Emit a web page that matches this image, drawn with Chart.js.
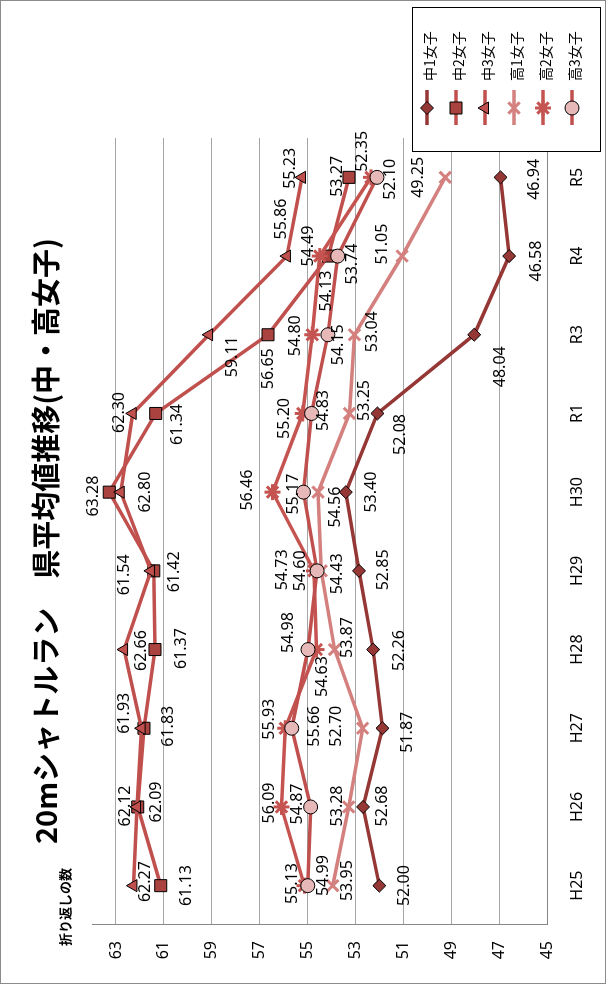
<!DOCTYPE html>
<html>
<head>
<meta charset="utf-8">
<script src="https://cdn.jsdelivr.net/npm/chart.js@4.4.1/dist/chart.umd.min.js"></script>
<style>
  html, body { margin: 0; padding: 0; background: #fff; overflow: hidden; }
  /* chart is drawn upright (984x606) and turned a quarter turn to fit the page */
  #frame { position: absolute; left: 0; top: 0; width: 984px; height: 606px;
           transform-origin: 0 0; transform: translateY(984px) rotate(-90deg); }
</style>
</head>
<body>
<div id="frame"><canvas id="chart" width="984" height="606"></canvas></div>
<script>
var categories = ['H25', 'H26', 'H27', 'H28', 'H29', 'H30', 'R1', 'R3', 'R4', 'R5'];
var seriesNames = ['中1女子', '中2女子', '中3女子', '高1女子', '高2女子', '高3女子'];

var chu1 = [52.00, 52.68, 51.87, 52.26, 52.85, 53.40, 52.08, 48.04, 46.58, 46.94];
var chu2 = [61.13, 62.09, 61.83, 61.37, 61.42, 63.28, 61.34, 56.65, 54.13, 53.27];
var chu3 = [62.27, 62.12, 61.93, 62.66, 61.54, 62.80, 62.30, 59.11, 55.86, 55.23];
var kou1 = [53.95, 53.28, 52.70, 53.87, 54.43, 54.56, 53.25, 53.04, 51.05, 49.25];
var kou2 = [55.13, 56.09, 55.93, 54.63, 54.73, 56.46, 55.20, 54.80, 54.49, 52.35];
var kou3 = [54.99, 54.87, 55.66, 54.98, 54.60, 55.17, 54.83, 54.15, 53.74, 52.10];

var valueTicks = [45, 47, 49, 51, 53, 55, 57, 59, 61, 63];

var titleText = '20mシャトルラン　県平均値推移(中・高女子)';
var axisTitle = '折り返しの数';

// where each value label sits relative to its point [dx, dy]
var labelShift = [
  [[0, 25], [1, 19], [-4, 25], [-1, 26], [1, 24], [0, 26], [-21, 23], [-32, 26], [-5, 27], [-2, 34]],
  [[0, 26], [5, 19], [2, 24], [1, 26], [-1, 21], [-4, -16], [-11, 22], [-34, 0], [-35, -2], [1, -12]],
  [[4, 12], [1, -12], [15, -17], [-1, 17], [-4, -26], [0, 25], [1, -13], [-22, 23], [37, -5], [9, -12]],
  [[5, 15], [1, -11], [2, -26], [12, 13], [-3, 16], [-15, 17], [13, 15], [3, 18], [12, -20], [0, -27]],
  [[2, -12], [4, -12], [9, -16], [-27, 6], [1, -32], [2, -25], [-5, -18], [-1, -17], [10, -11], [26, -9]],
  [[10, 16], [3, -13], [2, 23], [17, -20], [0, -17], [-2, -10], [3, 12], [-10, 11], [-8, 15], [-2, 13]]
];

function series(index, data, line, style, fill, edge, radius, edgeWidth) {
  return {
    label: seriesNames[index],
    data: data,
    borderColor: line,
    borderWidth: 3.5,
    tension: 0,
    pointStyle: style,
    pointRadius: radius,
    pointBackgroundColor: fill,
    pointBorderColor: edge,
    pointBorderWidth: edgeWidth,
    order: 6 - index,
    clip: false
  };
}

var datasets = [
  series(0, chu1, '#953735', 'rectRot', '#953735', '#000000', 6.5, 1),
  series(1, chu2, '#C0504D', 'rect', '#AA423F', '#000000', 8.5, 1),
  series(2, chu3, '#C0504D', 'triangle', '#C0504D', '#000000', 7, 1),
  series(3, kou1, '#D3807E', 'crossRot', '#D3807E', '#D3807E', 8, 3),
  series(4, kou2, '#C55451', 'star', '#C55451', '#C55451', 8, 3),
  series(5, kou3, '#C0504D', 'circle', '#E6B9B8', '#000000', 7, 1)
];

var decor = {
  id: 'decor',
  beforeDraw: function (chart) {
    var ctx = chart.ctx;
    ctx.save();
    ctx.fillStyle = '#ffffff';
    ctx.fillRect(0, 0, chart.width, chart.height);
    ctx.restore();
  },
  afterDatasetsDraw: function (chart) {
    var ctx = chart.ctx;
    ctx.save();
    ctx.font = '16px "Noto Sans"';
    ctx.fillStyle = '#000000';
    ctx.textAlign = 'center';
    ctx.textBaseline = 'middle';
    chart.data.datasets.forEach(function (ds, i) {
      var meta = chart.getDatasetMeta(i);
      meta.data.forEach(function (pt, j) {
        var s = labelShift[i][j];
        ctx.fillText(ds.data[j].toFixed(2), pt.x + s[0], pt.y + s[1]);
      });
    });
    ctx.restore();
  },
  afterDraw: function (chart) {
    var ctx = chart.ctx;
    ctx.save();

    ctx.strokeStyle = '#8c8c8c';
    ctx.lineWidth = 1;
    ctx.strokeRect(0.5, 0.5, chart.width - 1, chart.height - 1);

    ctx.fillStyle = '#000000';
    ctx.textAlign = 'center';
    ctx.textBaseline = 'middle';
    ctx.font = 'bold 29px "Noto Sans CJK JP"';
    ctx.fillText(titleText, 443, 46);

    ctx.font = 'bold 13px "Noto Sans CJK JP"';
    ctx.fillText(axisTitle, 77, 65);

    // legend box
    ctx.fillStyle = '#ffffff';
    ctx.fillRect(832, 412, 144, 188);
    ctx.strokeStyle = '#000000';
    ctx.strokeRect(832.5, 412.5, 144, 188);

    chart.data.datasets.forEach(function (ds, i) {
      var y = 427 + i * 29;
      ctx.strokeStyle = ds.borderColor;
      ctx.lineWidth = 3.5;
      ctx.beginPath();
      ctx.moveTo(859, y);
      ctx.lineTo(894, y);
      ctx.stroke();

      ctx.fillStyle = ds.pointBackgroundColor;
      ctx.strokeStyle = ds.pointBorderColor;
      ctx.lineWidth = ds.pointBorderWidth;
      Chart.helpers.drawPoint(ctx, {
        pointStyle: ds.pointStyle,
        radius: ds.pointRadius,
        rotation: 0,
        borderWidth: ds.pointBorderWidth
      }, 876, y);

      ctx.fillStyle = '#000000';
      ctx.textAlign = 'left';
      ctx.font = '14px "Noto Sans CJK JP"';
      ctx.fillText(ds.label, 903, y + 3);
    });

    ctx.restore();
  }
};

new Chart(document.getElementById('chart'), {
  type: 'line',
  data: { labels: categories, datasets: datasets },
  plugins: [decor],
  options: {
    responsive: false,
    animation: false,
    devicePixelRatio: 1,
    layout: { padding: { top: 92, right: 138, left: 0, bottom: 0 } },
    plugins: {
      legend: { display: false },
      title: { display: false },
      tooltip: { enabled: false }
    },
    scales: {
      x: {
        type: 'category',
        offset: true,
        grid: { display: false, offset: true },
        border: { display: true, color: '#868686' },
        ticks: {
          autoSkip: false,
          maxRotation: 0,
          padding: 13,
          color: '#000000',
          font: { family: 'Noto Sans', size: 16 }
        },
        afterFit: function (scale) { scale.height = 59; }
      },
      y: {
        min: 45,
        max: 64,
        grid: { color: '#A6A6A6', drawTicks: false },
        border: { display: true, color: '#868686' },
        ticks: {
          padding: 16,
          color: '#000000',
          font: { family: 'Noto Sans', size: 16 }
        },
        afterBuildTicks: function (axis) {
          axis.ticks = valueTicks.map(function (v) { return { value: v }; });
        },
        afterFit: function (scale) { scale.width = 59; }
      }
    }
  }
});
</script>
</body>
</html>
